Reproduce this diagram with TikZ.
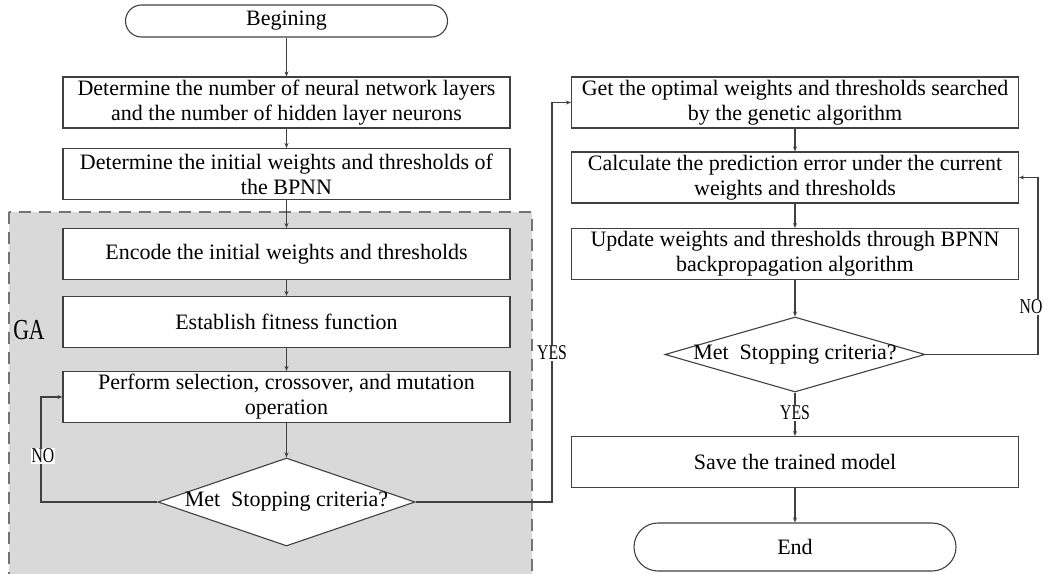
\documentclass[tikz,border=0pt]{standalone}
\usepackage{fontspec}
\setmainfont{Liberation Serif}
\newfontfamily\labelfont[FakeStretch=0.75]{Liberation Serif}
\newcommand{\flowfont}{\fontsize{22}{25}\selectfont}
\usetikzlibrary{shapes.geometric,arrows.meta}

\begin{document}
\begin{tikzpicture}[x=1pt,y=-1pt,
    procbox/.style={draw=black!75,line width=1.1pt,fill=white,minimum width=447pt,minimum height=51pt,inner sep=0pt,align=center,font=\flowfont},
    termbox/.style={draw=black!75,line width=1.1pt,fill=white,minimum width=322pt,inner sep=0pt,font=\flowfont},
    decision/.style={diamond,draw=black!75,line width=1.1pt,fill=white,minimum width=257pt,minimum height=88pt,inner sep=0pt},
    flow/.style={draw=black!75,line width=1.1pt,-{Stealth[length=5pt,width=4pt]}},
    tag/.style={fill=white,inner sep=1pt,font=\labelfont\fontsize{21}{21}\selectfont}]
        % Definition
        \pgfmathsetmacro{\lx}{286.5}
        \pgfmathsetmacro{\rx}{795}

        % Frame
        \useasboundingbox (0,0) rectangle (1044,573);
        \clip (0,0) rectangle (1044,573);

        % Draw the GA area
        \fill[black!15] (9,212) rectangle (532,590);
        \draw[black!55,line width=2pt,dash pattern=on 12pt off 8pt] (9,212) rectangle (532,590);
        \node[font=\labelfont\fontsize{29}{29}\selectfont] (galabel) at (29,330) {GA};

        % Left column
        \node[termbox,minimum height=32pt,rounded corners=16pt] (begin) at (\lx,21) {Begining};
        \node[procbox] (layers) at (\lx,102.5) {Determine the number of neural network layers\\and the number of hidden layer neurons};
        \node[procbox] (init) at (\lx,174) {Determine the initial weights and thresholds of\\the BPNN};
        \node[procbox] (encode) at (\lx,254) {Encode the initial weights and thresholds};
        \node[procbox] (fitness) at (\lx,322) {Establish fitness function};
        \node[procbox] (evolve) at (\lx,397) {Perform selection, crossover, and mutation\\operation};
        \node[decision,label={[font=\flowfont]center:Met\ \ Stopping criteria?}] (stopga) at (\lx,502) {};

        % Right column
        \node[procbox] (optimum) at (\rx,102.5) {Get the optimal weights and thresholds searched\\by the genetic algorithm};
        \node[procbox] (error) at (\rx,177.5) {Calculate the prediction error under the current\\weights and thresholds};
        \node[procbox] (update) at (\rx,254) {Update weights and thresholds through BPNN\\backpropagation algorithm};
        \node[decision,minimum width=260pt,minimum height=75pt,label={[font=\flowfont]center:Met\ \ Stopping criteria?}] (stopbp) at (\rx,354.5) {};
        \node[procbox] (save) at (\rx,462) {Save the trained model};
        \node[termbox,minimum height=48pt,rounded corners=24pt] (end) at (\rx,547) {End};

        % Turning points
        \coordinate (gaback) at (41,397);
        \coordinate (yesturn) at (552,102.5);
        \coordinate (bpback) at (1038,177.5);

        % Draw the flow
        \draw[flow] (begin) -- (layers);
        \draw[flow] (layers) -- (init);
        \draw[flow] (init) -- (encode);
        \draw[flow] (encode) -- (fitness);
        \draw[flow] (fitness) -- (evolve);
        \draw[flow] (evolve) -- (stopga);
        \draw[flow] (stopga.west) -| (gaback) -- (evolve.west);
        \draw[flow] (stopga.east) -| (yesturn) -- (optimum.west);
        \draw[flow] (optimum) -- (error);
        \draw[flow] (error) -- (update);
        \draw[flow] (update) -- (stopbp);
        \draw[flow] (stopbp.east) -| (bpback) -- (error.east);
        \draw[flow] (stopbp) -- (save);
        \draw[flow] (save) -- (end);

        % Labels
        \node[tag] (gano) at (43,456) {NO};
        \node[tag] (gayes) at (552,353) {YES};
        \node[tag] (bpno) at (1031,307) {NO};
        \node[tag] (bpyes) at (\rx,413) {YES};
      \end{tikzpicture}
\end{document}
